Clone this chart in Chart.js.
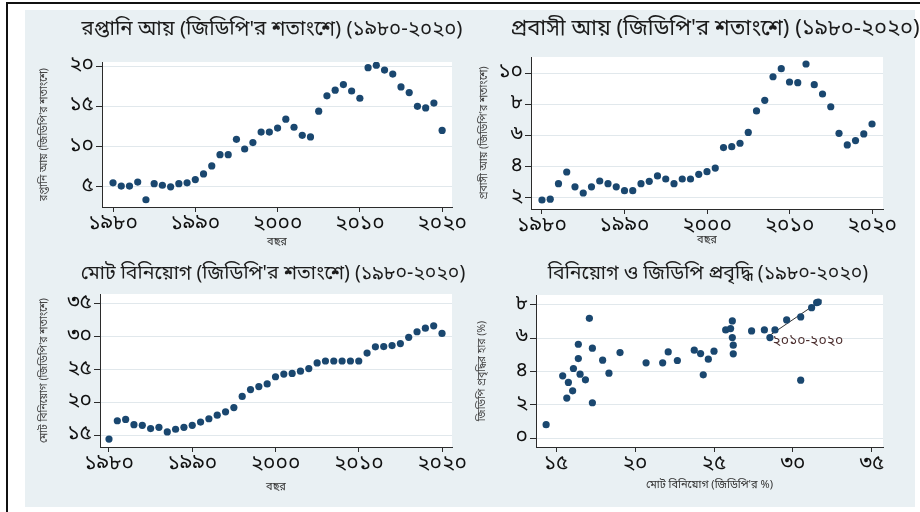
<!DOCTYPE html>
<html>
<head>
<meta charset="utf-8">
<script src="https://cdn.jsdelivr.net/npm/chart.js@4.4.0/dist/chart.umd.min.js"></script>
<style>
  body { margin: 0; width: 920px; height: 512px; background: #fff; position: relative; overflow: hidden; }
  #frame { position: absolute; left: 6px; top: 2px; width: 914px; height: 510px; border-left: 2px solid #111; border-top: 2px solid #111; }
  #bg { position: absolute; left: 25px; top: 10px; width: 890px; height: 497px; background: #e9f0f3; }
  canvas { position: absolute; }
</style>
</head>
<body>
<div id="frame"></div>
<div id="bg"></div>
<canvas id="c1" width="450" height="246" style="left:25px;top:10px"></canvas>
<canvas id="c2" width="460" height="246" style="left:460px;top:10px"></canvas>
<canvas id="c3" width="450" height="251" style="left:25px;top:256px"></canvas>
<canvas id="c4" width="460" height="251" style="left:460px;top:256px"></canvas>
<script>
// years 1980-2020
const years = [1980,1981,1982,1983,1984,1985,1986,1987,1988,1989,1990,1991,1992,1993,1994,1995,1996,1997,1998,1999,
  2000,2001,2002,2003,2004,2005,2006,2007,2008,2009,2010,2011,2012,2013,2014,2015,2016,2017,2018,2019,2020];

// রপ্তানি আয় (% of GDP)
const exportsPct = [5.5,5.1,5.1,5.6,3.4,5.4,5.2,5.0,5.4,5.5,5.9,6.6,7.6,9.0,9.0,10.9,9.7,10.5,11.8,11.8,
  12.3,13.4,12.4,11.4,11.2,14.4,16.3,17.0,17.7,16.9,16.0,19.8,20.1,19.5,19.0,17.4,16.7,15.0,14.8,15.4,12.0];

// প্রবাসী আয় (% of GDP)
const remitPct = [1.85,1.9,2.9,3.65,2.7,2.3,2.7,3.07,2.9,2.7,2.45,2.45,2.9,3.05,3.4,3.2,2.9,3.2,3.2,3.5,
  3.67,3.9,5.22,5.28,5.5,6.2,7.58,8.26,9.78,10.3,9.44,9.4,10.6,9.27,8.67,7.85,6.14,5.39,5.67,6.1,6.74];

// মোট বিনিয়োগ (% of GDP)
const investPct = [14.4,17.2,17.4,16.6,16.5,16.0,16.2,15.5,15.9,16.2,16.5,17.0,17.5,18.05,18.55,19.2,20.9,21.95,22.4,22.8,
  23.9,24.3,24.4,24.75,25.15,26.0,26.3,26.3,26.3,26.3,26.3,27.5,28.45,28.5,28.65,28.95,29.9,30.75,31.3,31.65,30.5];

// scatter: investment vs GDP growth
const scatterInvest = [14.37,15.42,15.78,15.68,16.05,16.1,16.41,16.41,16.52,16.86,17.11,17.3,17.3,17.95,18.35,19.05,
  20.7,21.75,22.1,22.68,23.75,24.15,24.32,24.64,25.0,25.74,26.05,26.16,26.16,26.22,26.22,27.38,28.19,28.54,28.86,
  29.6,30.49,30.49,31.18,31.5,31.6];
const gdpGrowth = [0.8,3.74,3.34,2.4,2.84,4.18,5.64,4.78,3.84,3.5,7.2,2.12,5.4,4.68,3.9,5.14,
  4.52,4.52,5.18,4.66,5.28,5.08,3.8,4.74,5.22,6.5,6.58,7.04,6.04,5.58,5.06,6.44,6.5,6.04,6.5,
  7.1,7.28,3.48,7.84,8.14,8.18];

// fitted line for 2010-2020 and its label
const fitX = [28.42, 31.82];
const fitY = [6.1, 8.3];
const fitLabel = '২০১০-২০২০';
const fitLabelAt = [28.7, 5.78];

// tick values and labels
const yearTicks = [1980, 1990, 2000, 2010, 2020];
const yearTickLabels = ['১৯৮০', '১৯৯০', '২০০০', '২০১০', '২০২০'];
const exportTicks = [5, 10, 15, 20];
const exportTickLabels = ['৫', '১০', '১৫', '২০'];
const remitTicks = [2, 4, 6, 8, 10];
const remitTickLabels = ['২', '৪', '৬', '৮', '১০'];
const investTicks = [15, 20, 25, 30, 35];
const investTickLabels = ['১৫', '২০', '২৫', '৩০', '৩৫'];
const growthTicks = [0, 2, 4, 6, 8];
const growthTickLabels = ['০', '২', '৪', '৬', '৮'];

const NAVY = '#1a476f';
const GRID = '#e1e8ec';
const AXIS = '#2b2b2b';
const FONT = "'Noto Sans Bengali','Noto Serif Bengali','Lohit Bengali','FreeSerif','Noto Sans',sans-serif";
Chart.defaults.font.family = FONT;
Chart.defaults.color = '#111';

const plotBg = {
  id: 'plotBg',
  beforeDraw(chart) {
    const a = chart.chartArea, ctx = chart.ctx;
    ctx.save();
    ctx.fillStyle = '#ffffff';
    ctx.fillRect(a.left, a.top, a.right - a.left, a.bottom - a.top);
    ctx.restore();
  }
};

// panel heading, drawn centred at a fixed spot (the stock title squeezes it into the plot width)
const panelTitle = {
  id: 'panelTitle',
  afterDraw(chart, args, opts) {
    if (!opts.text) return;
    const ctx = chart.ctx;
    ctx.save();
    ctx.font = opts.size + 'px ' + FONT;
    ctx.fillStyle = '#1c1c1c';
    ctx.textAlign = 'center';
    ctx.textBaseline = 'middle';
    ctx.fillText(opts.text, opts.cx, opts.cy);
    ctx.restore();
  }
};

const fitText = {
  id: 'fitText',
  afterDatasetsDraw(chart, args, opts) {
    if (!opts.text) return;
    const ctx = chart.ctx;
    const x = chart.scales.x.getPixelForValue(opts.at[0]);
    const y = chart.scales.y.getPixelForValue(opts.at[1]);
    ctx.save();
    ctx.font = '14px ' + FONT;
    ctx.fillStyle = '#4a2c2c';
    ctx.textBaseline = 'middle';
    ctx.fillText(opts.text, x, y);
    ctx.restore();
  }
};

function points(xs, ys) {
  return xs.map((x, i) => ({ x: x, y: ys[i] }));
}

function makePanel(id, cfg) {
  const xT = cfg.xTicks, yT = cfg.yTicks;
  const datasets = [{
    data: points(cfg.xs, cfg.ys),
    backgroundColor: NAVY,
    borderColor: NAVY,
    pointRadius: 3.6,
    pointBorderWidth: 0,
    showLine: false
  }];
  if (cfg.line) {
    datasets.push({
      data: points(cfg.line[0], cfg.line[1]),
      showLine: true,
      borderColor: '#333',
      borderWidth: 1,
      pointRadius: 0
    });
  }
  new Chart(document.getElementById(id), {
    type: 'scatter',
    data: { datasets: datasets },
    plugins: [plotBg, fitText, panelTitle],
    options: {
      responsive: false,
      animation: false,
      events: [],
      layout: { padding: cfg.pad },
      plugins: {
        legend: { display: false },
        tooltip: { enabled: false },
        title: { display: false },
        panelTitle: { text: cfg.title, size: cfg.titleSize, cx: cfg.titleAt[0], cy: cfg.titleAt[1] },
        fitText: cfg.fit || {}
      },
      scales: {
        x: {
          type: 'linear',
          min: cfg.xRange[0], max: cfg.xRange[1],
          afterBuildTicks: s => { s.ticks = xT.map(v => ({ value: v })); },
          afterFit: s => { s.height = cfg.xHeight; },
          ticks: {
            callback: v => cfg.xTickLabels[xT.indexOf(v)],
            font: { size: 21 },
            color: '#111',
            padding: 0,
            maxRotation: 0
          },
          grid: { drawOnChartArea: false, drawTicks: true, tickLength: 5, tickColor: AXIS },
          border: { display: true, color: AXIS, width: 1 },
          title: {
            display: true, text: cfg.xTitle, color: '#333',
            font: { size: 11 }, padding: { top: 0, bottom: cfg.xTitleBottom }
          }
        },
        y: {
          type: 'linear',
          min: cfg.yRange[0], max: cfg.yRange[1],
          afterBuildTicks: s => { s.ticks = yT.map(v => ({ value: v })); },
          afterFit: s => { s.width = cfg.yWidth; },
          ticks: {
            callback: v => cfg.yTickLabels[yT.indexOf(v)],
            font: { size: 21 },
            color: '#111',
            padding: 2
          },
          grid: { color: GRID, lineWidth: 1, drawTicks: true, tickLength: 6, tickColor: AXIS },
          border: { display: true, color: AXIS, width: 1 },
          title: {
            display: true, text: cfg.yTitle, color: '#444',
            font: { size: 10.5 }, padding: { top: 2, bottom: 0 }
          }
        }
      }
    }
  });
}

makePanel('c1', {
  title: "রপ্তানি আয় (জিডিপি'র শতাংশে) (১৯৮০-২০২০)",
  titleAt: [247, 21], titleSize: 20.5,
  xs: years, ys: exportsPct,
  xRange: [1978.66, 2021.2], yRange: [2.5, 20.5],
  xTicks: yearTicks, xTickLabels: yearTickLabels,
  yTicks: exportTicks, yTickLabels: exportTickLabels,
  xTitle: 'বছর', yTitle: "রপ্তানি আয় (জিডিপি'র শতাংশে)",
  pad: { left: 12, right: 23, top: 52, bottom: 0 },
  yWidth: 65, xHeight: 49, xTitleBottom: 7
});

makePanel('c2', {
  title: "প্রবাসী আয় (জিডিপি'র শতাংশে) (১৯৮০-২০২০)",
  titleAt: [255, 21], titleSize: 22,
  xs: years, ys: remitPct,
  xRange: [1978.67, 2021.33], yRange: [1.27, 11.05],
  xTicks: yearTicks, xTickLabels: yearTickLabels,
  yTicks: remitTicks, yTickLabels: remitTickLabels,
  xTitle: 'বছর', yTitle: "প্রবাসী আয় (জিডিপি'র শতাংশে)",
  pad: { left: 17, right: 37, top: 47, bottom: 0 },
  yWidth: 54, xHeight: 47, xTitleBottom: 9
});

makePanel('c3', {
  title: "মোট বিনিয়োগ (জিডিপি'র শতাংশে) (১৯৮০-২০২০)",
  titleAt: [248, 19], titleSize: 19.5,
  xs: years, ys: investPct,
  xRange: [1978.92, 2021.2], yRange: [13.2, 36.5],
  xTicks: yearTicks, xTickLabels: yearTickLabels,
  yTicks: investTicks, yTickLabels: investTickLabels,
  xTitle: 'বছর', yTitle: "মোট বিনিয়োগ (জিডিপি'র শতাংশে)",
  pad: { left: 12, right: 23, top: 38, bottom: 0 },
  yWidth: 63, xHeight: 60, xTitleBottom: 13
});

makePanel('c4', {
  title: 'বিনিয়োগ ও জিডিপি প্রবৃদ্ধি (১৯৮০-২০২০)',
  titleAt: [248, 19], titleSize: 19.5,
  xs: scatterInvest, ys: gdpGrowth,
  line: [fitX, fitY],
  fit: { text: fitLabel, at: fitLabelAt },
  xRange: [13.73, 35.7], yRange: [-0.54, 8.6],
  xTicks: investTicks, xTickLabels: investTickLabels,
  yTicks: growthTicks, yTickLabels: growthTickLabels,
  xTitle: "মোট বিনিয়োগ (জিডিপি'র %)", yTitle: 'জিডিপি প্রবৃদ্ধির হার (%)',
  pad: { left: 15, right: 37, top: 39, bottom: 0 },
  yWidth: 61, xHeight: 60, xTitleBottom: 15
});
</script>
</body>
</html>
